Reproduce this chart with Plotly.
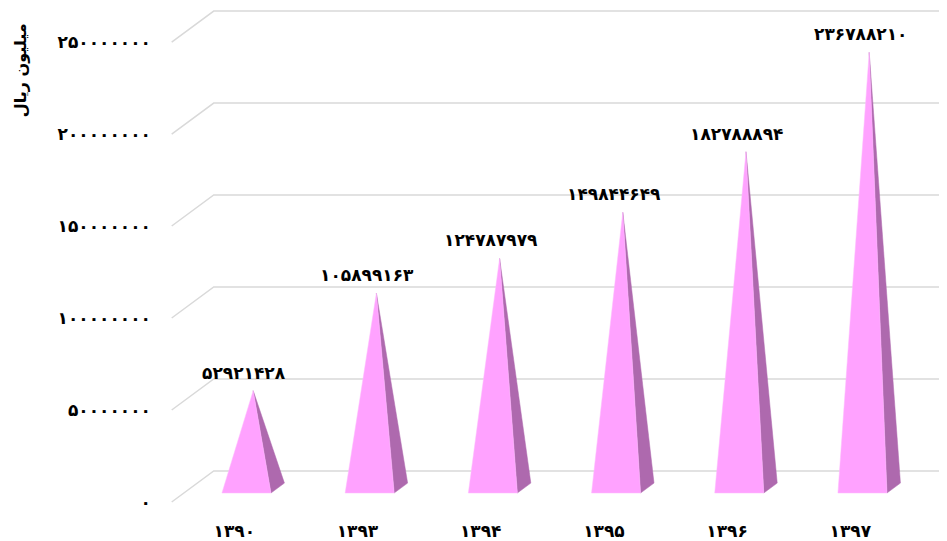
import plotly.graph_objects as go

# ---- data ----
years = ["۱۳۹۰", "۱۳۹۳", "۱۳۹۴", "۱۳۹۵", "۱۳۹۶", "۱۳۹۷"]
values = [52921428, 105899163, 124787979, 149844649, 182788894, 236788210]
value_labels = ["۵۲۹۲۱۴۲۸", "۱۰۵۸۹۹۱۶۳", "۱۲۴۷۸۷۹۷۹", "۱۴۹۸۴۴۶۴۹", "۱۸۲۷۸۸۸۹۴", "۲۳۶۷۸۸۲۱۰"]
y_ticks = [0, 50000000, 100000000, 150000000, 200000000, 250000000]
y_tick_labels = ["۰", "۵۰۰۰۰۰۰۰", "۱۰۰۰۰۰۰۰۰", "۱۵۰۰۰۰۰۰۰", "۲۰۰۰۰۰۰۰۰", "۲۵۰۰۰۰۰۰۰"]
y_title = "میلیون ریال"

# ---- pseudo-3D geometry (in axis units) ----
DX = 0.341          # x shift for full depth
DY = 16.85e6        # y shift for full depth
D_FRONT, D_MID, D_BACK = 0.29, 0.45, 0.61
HALF_W = 0.199
X_MIN, X_MAX = -0.603, 5.785
Y_MIN, Y_MAX = -4.35e6, 268.5e6
WALL_X = -0.508

FRONT_COL = "#FFA2FF"
SIDE_COL = "#AE69AE"
GRID_COL = "#D9D9D9"
FONT = "DejaVu Sans"

fig = go.Figure()

# back wall gridlines with side-wall diagonals
for v in y_ticks:
    fig.add_trace(go.Scatter(
        x=[WALL_X, WALL_X + DX, X_MAX],
        y=[v, v + DY, v + DY],
        mode="lines", line=dict(color=GRID_COL, width=1.5),
        hoverinfo="skip", showlegend=False))

# pyramids
for i, v in enumerate(values):
    fl = (i - HALF_W + D_FRONT * DX, D_FRONT * DY)
    fr = (i + HALF_W + D_FRONT * DX, D_FRONT * DY)
    br = (i + HALF_W + D_BACK * DX, D_BACK * DY)
    ap = (i + D_MID * DX, v + D_MID * DY)
    fig.add_trace(go.Scatter(
        x=[fr[0], br[0], ap[0], fr[0]], y=[fr[1], br[1], ap[1], fr[1]],
        mode="lines", fill="toself", fillcolor=SIDE_COL,
        line=dict(color=SIDE_COL, width=0.5), hoverinfo="skip", showlegend=False))
    fig.add_trace(go.Scatter(
        x=[fl[0], fr[0], ap[0], fl[0]], y=[fl[1], fr[1], ap[1], fl[1]],
        mode="lines", fill="toself", fillcolor=FRONT_COL,
        line=dict(color="#FFB8FF", width=0.5), hoverinfo="skip", showlegend=False))
    fig.add_annotation(
        x=ap[0], y=ap[1], text=value_labels[i], showarrow=False,
        xanchor="center", yanchor="middle", xshift=-9, yshift=18,
        font=dict(family=FONT, size=17, color="black", weight="bold"))

fig.add_annotation(
    xref="paper", yref="paper", x=-0.178, y=0.876, text=y_title,
    textangle=-90, showarrow=False, xanchor="center", yanchor="middle",
    font=dict(family=FONT, size=16, color="black", weight="bold"))

fig.update_layout(
    width=939, height=533,
    margin=dict(l=152, r=0, t=0, b=31),
    paper_bgcolor="white", plot_bgcolor="white",
    showlegend=False,
    xaxis=dict(range=[X_MIN, X_MAX], tickvals=list(range(len(years))), ticktext=years,
               showgrid=False, zeroline=False, showline=False, ticks="",
               tickfont=dict(family=FONT, size=17, color="black", weight="bold"),
               ticklabelstandoff=9),
    yaxis=dict(range=[Y_MIN, Y_MAX], tickvals=y_ticks, ticktext=y_tick_labels,
               showgrid=False, zeroline=False, showline=False, ticks="",
               tickfont=dict(family=FONT, size=17, color="black", weight="bold"),
               ticklabelstandoff=8),
)

fig.write_html("out.html")
